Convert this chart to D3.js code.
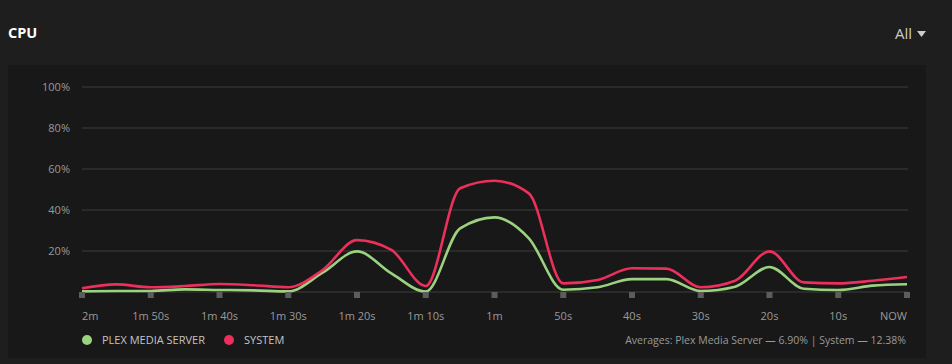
<!DOCTYPE html>
<html><head><meta charset="utf-8">
<script src="https://cdn.jsdelivr.net/npm/d3@7"></script>
<style>
html,body{margin:0;padding:0;background:#1e1e1e;}
svg{display:block;}
</style></head><body>
<svg id="c" width="952" height="364"></svg>
<script>
const secondsAgo = [120,115,110,105,100,95,90,85,80,75,70,65,60,55,50,45,40,35,30,25,20,15,10,5,0];
const plexValues = [0.3,0.5,0.5,1.3,1.0,0.8,0.3,9.4,19.8,9.1,0.2,31.0,36.4,26.2,1.1,2.3,6.3,6.3,0.5,2.6,12.2,1.6,1.0,3.1,3.8];
const systemValues = [1.8,3.7,2.3,2.9,3.9,3.3,2.3,10.7,25.3,20.5,2.9,50.6,54.3,48.1,4.2,5.9,11.6,11.4,2.3,5.5,19.8,4.7,4.2,5.5,7.3];
const xTickValues = [120,110,100,90,80,70,60,50,40,30,20,10,0];
const xTickLabels = ["2m","1m 50s","1m 40s","1m 30s","1m 20s","1m 10s","1m","50s","40s","30s","20s","10s","NOW"];
const yTickValues = [20,40,60,80,100];
const seriesNames = ["PLEX MEDIA SERVER","SYSTEM"];
const seriesColors = ["#9cd27f","#ec2f5b"];
const averagesText = "Averages: Plex Media Server — 6.90% | System — 12.38%";

const svg = d3.select("#c");
const font = "'Open Sans', sans-serif";

// panel
svg.append("rect").attr("x",8).attr("y",65).attr("width",918).attr("height",293).attr("fill","#181818");

// header
svg.append("text").attr("x",8).attr("y",38).text("CPU")
  .attr("fill","#ffffff").attr("font-family",font).attr("font-weight",700).attr("font-size",14.5);
svg.append("text").attr("x",912).attr("y",39).attr("text-anchor","end").text("All")
  .attr("fill","#cccccc").attr("font-family",font).attr("font-size",15);
svg.append("path").attr("d","M917,31 L926,31 L921.5,37 Z").attr("fill","#cccccc");

const x = d3.scaleLinear().domain([120,0]).range([82,907]);
const y = d3.scaleLinear().domain([0,100]).range([292,87]);

// grid
svg.append("g").selectAll("line").data([0].concat(yTickValues)).join("line")
  .attr("x1",82).attr("x2",908).attr("y1",d=>y(d)).attr("y2",d=>y(d))
  .attr("stroke","#2a2a2a").attr("stroke-width",2);

// y labels
svg.append("g").selectAll("text").data(yTickValues).join("text")
  .attr("x",70).attr("y",d=>y(d)).attr("dy","0.35em").attr("text-anchor","end")
  .text(d=>d+"%").attr("fill","#9a9a9a").attr("font-family",font).attr("font-size",11);

// lines
const line = vals => d3.line().x((d,i)=>x(secondsAgo[i])).y(d=>y(d)).curve(d3.curveMonotoneX)(vals);
[plexValues, systemValues].forEach((vals,k)=>{
  svg.append("path").attr("d",line(vals)).attr("fill","none")
    .attr("stroke",seriesColors[k]).attr("stroke-width",2.6).attr("stroke-linejoin","round");
});

// tick squares
svg.append("g").selectAll("rect").data(xTickValues).join("rect")
  .attr("x",d=>x(d)-3).attr("y",292).attr("width",6).attr("height",6).attr("fill","#5c5c5c");

// x labels
svg.append("g").selectAll("text").data(xTickValues).join("text")
  .attr("x",d=>x(d)).attr("y",320)
  .attr("text-anchor",(d,i)=> i===0?"start":(i===xTickValues.length-1?"end":"middle"))
  .text((d,i)=>xTickLabels[i]).attr("fill","#9a9a9a").attr("font-family",font).attr("font-size",11);

// legend
const legX = [87,229];
seriesNames.forEach((n,k)=>{
  svg.append("circle").attr("cx",legX[k]).attr("cy",340).attr("r",5).attr("fill",seriesColors[k]);
  svg.append("text").attr("x",legX[k]+15).attr("y",340).attr("dy","0.35em").text(n)
    .attr("fill","#c4c4c4").attr("font-family",font).attr("font-size",11);
});
svg.append("text").attr("x",906).attr("y",340).attr("dy","0.35em").attr("text-anchor","end")
  .text(averagesText).attr("fill","#9a9a9a").attr("font-family",font).attr("font-size",10.5);
</script>
</body></html>
